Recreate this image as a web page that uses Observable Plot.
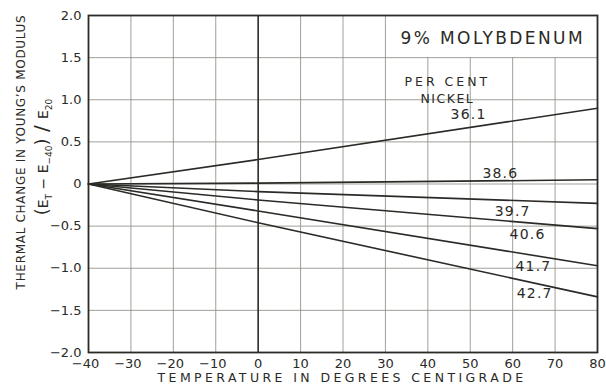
<!DOCTYPE html>
<html><head><meta charset="utf-8">
<script src="https://cdn.jsdelivr.net/npm/d3@7"></script>
<script src="https://cdn.jsdelivr.net/npm/@observablehq/plot@0.6"></script>
<style>
body{margin:0;background:#fff}
svg{display:block}
</style>
</head><body><div id="chart"></div>
<script>
// Temperatures (°C) at which values are read
const temps = [-40, 0, 80];
// Nickel content (per cent) of each curve
const nickel = ["36.1", "38.6", "39.7", "40.6", "41.7", "42.7"];
// Thermal change in Young's modulus for each alloy, at the temps above
const s361 = [0, 0.29, 0.90];
const s386 = [0, 0.01, 0.05];
const s397 = [0, -0.09, -0.23];
const s406 = [0, -0.19, -0.53];
const s417 = [0, -0.32, -0.97];
const s427 = [0, -0.46, -1.34];
const seriesValues = [s361, s386, s397, s406, s417, s427];
// Curve label anchors (data units)
const labelT = [49.6, 57.1, 60.0, 63.5, 64.9, 65.2];
const labelV = [0.83, 0.125, -0.33, -0.60, -0.98, -1.30];
// Axis ticks
const xTicks = [-40, -30, -20, -10, 0, 10, 20, 30, 40, 50, 60, 70, 80];
const yTicks = [-2, -1.5, -1, -0.5, 0, 0.5, 1, 1.5, 2];

const rows = [];
nickel.forEach((n, i) => temps.forEach((t, j) => rows.push({nickel: n, t, v: seriesValues[i][j]})));
const labels = nickel.map((n, i) => ({text: n, t: labelT[i], v: labelV[i]}));

const fmtY = d => d === 0 ? "0" : d.toFixed(1).replace("-", "\u2212");
const fmtX = d => String(d).replace("-", "\u2212");

const ink = "#2a2a26";
const grid = "#8f8f89";
const font = "DejaVu Sans, sans-serif";

const vGrid = xTicks.filter(d => d > -40 && d < 80 && d !== 0).map(d => ({x: d, y2: d > 30 ? 1.5 : 2}));
const hGrid = yTicks.filter(d => d > -2 && d < 2);
const xNeg = xTicks.filter(d => d < 0);
const xPos = xTicks.filter(d => d >= 0);

const chart = Plot.plot({
  width: 606,
  height: 384,
  marginLeft: 88,
  marginRight: 9,
  marginTop: 15,
  marginBottom: 32,
  style: {fontFamily: font, background: "#fff", color: ink},
  x: {domain: [-40, 80], label: null},
  y: {domain: [-2, 2], label: null},
  marks: [
    Plot.ruleX(vGrid, {x: "x", y1: -2, y2: "y2", stroke: grid, strokeWidth: 0.85}),
    Plot.ruleY(hGrid, {y: d => d, stroke: grid, strokeWidth: 0.85}),
    Plot.ruleX([0], {stroke: ink, strokeWidth: 1.6}),
    Plot.line(rows, {x: "t", y: "v", z: "nickel", stroke: ink, strokeWidth: 1.6}),
    Plot.frame({stroke: ink, strokeWidth: 1.8}),
    Plot.axisX({ticks: xNeg, tickFormat: fmtX, tickSize: 0, tickPadding: 6, fontSize: 13, fill: ink, label: null, dx: -3}),
    Plot.axisX({ticks: xPos, tickFormat: fmtX, tickSize: 0, tickPadding: 6, fontSize: 13, fill: ink, label: null}),
    Plot.axisY({ticks: yTicks, tickFormat: fmtY, tickSize: 0, tickPadding: 7, fontSize: 13, fill: ink, label: null}),
    Plot.text(labels, {x: "t", y: "v", text: "text", fontSize: 14, fill: ink}),
    Plot.text(["PER CENT"], {x: 44.6, y: 1.21, text: d => d, fontSize: 12.5, fill: ink}),
    Plot.text(["NICKEL"], {x: 44.6, y: 1.01, text: d => d, fontSize: 12.5, fill: ink}),
    Plot.text(["9% MOLYBDENUM"], {x: 55.3, y: 1.73, text: d => d, fontSize: 17, fill: ink})
  ]
});

const svg = d3.select(chart);
svg.selectAll("text").style("font-family", font);
const spacing = {"PER CENT": "3px", "NICKEL": "1.5px", "9% MOLYBDENUM": "2.4px"};
svg.selectAll("text").each(function(){
  const s = spacing[this.textContent];
  if (s) d3.select(this).style("letter-spacing", s);
  if (nickel.includes(this.textContent)) d3.select(this).style("letter-spacing", "1.2px");
});

// x-axis title
svg.append("text")
  .attr("x", 342).attr("y", 382)
  .attr("text-anchor", "middle")
  .attr("font-size", 12.5)
  .attr("fill", ink)
  .style("letter-spacing", "3.4px")
  .style("font-family", font)
  .text("TEMPERATURE IN DEGREES CENTIGRADE");

// y-axis title, line 1
svg.append("text")
  .attr("transform", "translate(25,152) rotate(-90)")
  .attr("text-anchor", "middle")
  .attr("font-size", 12)
  .attr("fill", ink)
  .style("letter-spacing", "0.7px")
  .style("font-family", font)
  .text("THERMAL CHANGE IN YOUNG\u2019S MODULUS");

// y-axis title, line 2: (E_T − E_-40) / E_20
const t2 = svg.append("text")
  .attr("transform", "translate(48,157) rotate(-90)")
  .attr("text-anchor", "middle")
  .attr("font-size", 14)
  .attr("fill", ink)
  .style("font-family", font);
t2.append("tspan").attr("font-size", 18).text("(");
t2.append("tspan").text("E");
t2.append("tspan").attr("font-size", 9).attr("dy", 4).text("T");
t2.append("tspan").attr("dy", -4).text(" \u2212 E");
t2.append("tspan").attr("font-size", 9).attr("dy", 4).text("\u221240");
t2.append("tspan").attr("dy", -4).attr("font-size", 18).text(")");
t2.append("tspan").attr("font-size", 20).text(" / ");
t2.append("tspan").text("E");
t2.append("tspan").attr("font-size", 9).attr("dy", 4).text("20");

document.getElementById("chart").appendChild(chart);
</script>
</body></html>
